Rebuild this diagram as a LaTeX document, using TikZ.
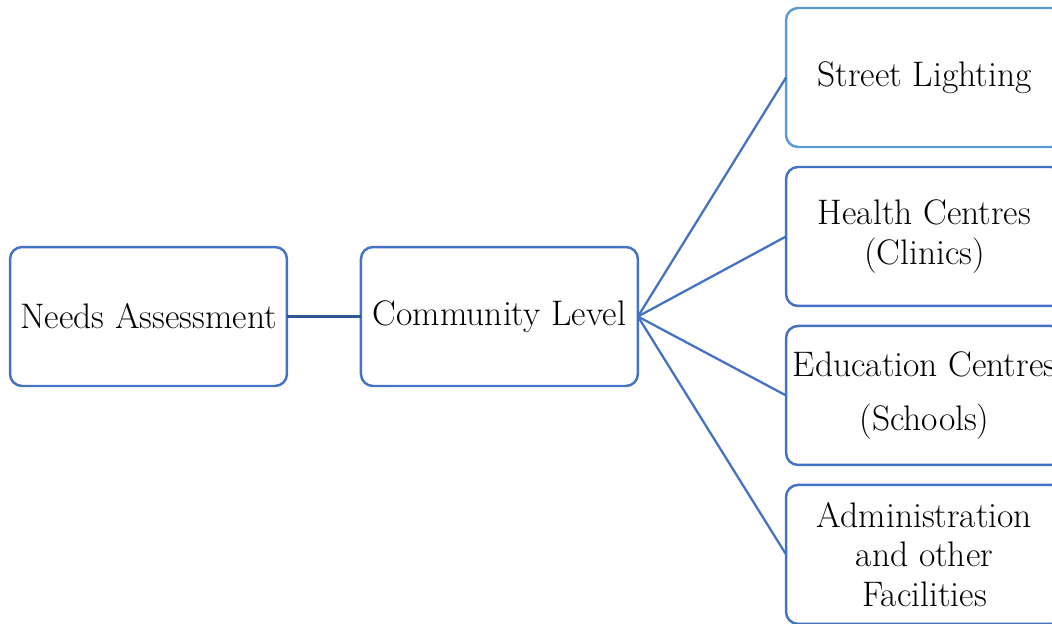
\documentclass[tikz,border=0pt]{standalone}
\usetikzlibrary{positioning}
\definecolor{boxblue}{HTML}{4472C4}
\definecolor{lightblue}{HTML}{5B9BD5}
\definecolor{darkblue}{HTML}{2F5597}

\begin{document}
\begin{tikzpicture}[x=0.02cm, y=-0.02cm,
        box/.style={draw=boxblue, line width=1.4pt, rounded corners=0.24cm,
            minimum width=5.54cm, minimum height=2.78cm, inner sep=0pt, outer sep=0pt,
            align=center, font=\fontsize{20.2}{22.4}\selectfont},
        link/.style={draw=boxblue, line width=1.3pt}
        ]
        \useasboundingbox (0,0) rectangle (1052,623);

        \node[box] (needs) at (148.5,316.5) {Needs Assessment};
        \node[box, right=1.48cm of needs] (community) {Community Level};

        \node[box, draw=lightblue] (street) at (924.5,77.5) {Street Lighting};
        \node[box, below=0.4cm of street] (health) {Health Centres\\(Clinics)};
        \node[box, below=0.4cm of health] (education) {Education Centres\\[0.3cm](Schools)};
        \node[box, below=0.4cm of education] (admin) {Administration\\and other\\Facilities};

        \draw[link, draw=darkblue] (needs) -- (community);
        \foreach \n in {street, health, education, admin}
            \draw[link] (community.east) -- (\n.west);
    \end{tikzpicture}
\end{document}
